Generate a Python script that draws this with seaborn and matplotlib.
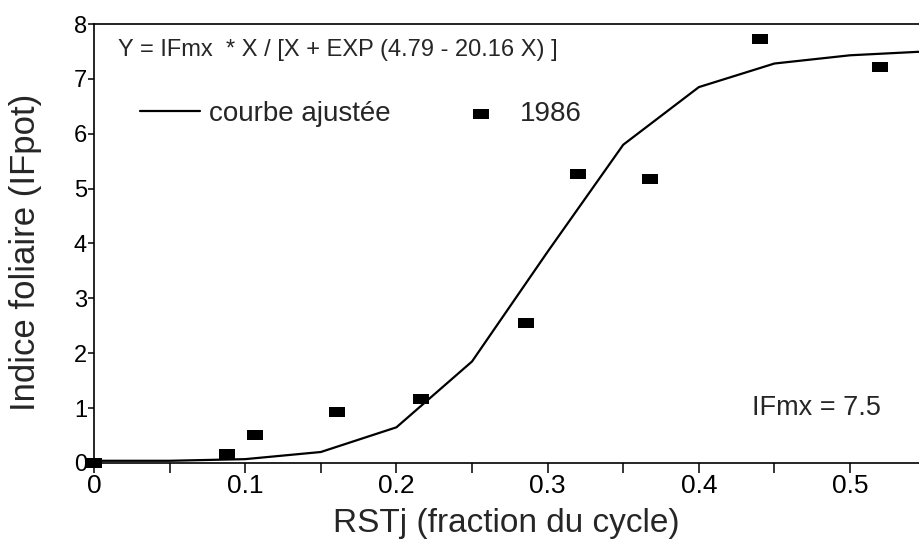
import numpy as np
import pandas as pd
import matplotlib
matplotlib.use("Agg")
import matplotlib.pyplot as plt
import seaborn as sns

# =========================
# DATA
# =========================
obs_x = [0.0, 0.088, 0.1065, 0.161, 0.216, 0.286, 0.320, 0.368, 0.4405, 0.520]
obs_y = [0.0, 0.17, 0.51, 0.93, 1.17, 2.56, 5.27, 5.18, 7.72, 7.21]

fit_x = [0.0, 0.05, 0.10, 0.15, 0.20, 0.25, 0.30, 0.35, 0.40, 0.45, 0.50, 0.55]
fit_y = [0.04, 0.04, 0.07, 0.20, 0.65, 1.85, 3.85, 5.80, 6.85, 7.28, 7.43, 7.50]

x_ticks = [0, 0.1, 0.2, 0.3, 0.4, 0.5]
x_tick_labels = ["0", "0.1", "0.2", "0.3", "0.4", "0.5"]
y_ticks = [0, 1, 2, 3, 4, 5, 6, 7, 8]

obs = pd.DataFrame({"x": obs_x, "y": obs_y})
fit = pd.DataFrame({"x": fit_x, "y": fit_y})

# =========================
# STYLE
# =========================
sns.set_style("ticks")
plt.rcParams["font.family"] = ["Liberation Sans", "DejaVu Sans"]

fig = plt.figure(figsize=(9.19, 5.42), dpi=100)
ax = fig.add_axes([0.1023, 0.1458, 0.8977, 0.8099])

# rectangular marker (wider than tall)
rect = [(-1, -0.65), (1, -0.65), (1, 0.65), (-1, 0.65), (-1, -0.65)]

sns.lineplot(data=fit, x="x", y="y", ax=ax, color="black", lw=1.6,
             label="courbe ajustée")
sns.scatterplot(data=obs, x="x", y="y", ax=ax, color="black", marker=rect,
                s=140, linewidth=0, label="1986", clip_on=False, zorder=5)

ax.set_xlim(0, 0.5456)
ax.set_ylim(0, 8)

ax.set_xticks(x_ticks)
ax.set_xticklabels(x_tick_labels, fontsize=19)
ax.set_xticks([0.05, 0.15, 0.25, 0.35, 0.45], minor=True)
ax.set_yticks(y_ticks)
ax.set_yticklabels([str(v) for v in y_ticks], fontsize=17)

ax.tick_params(axis="x", which="both", direction="out", length=7, width=1.1,
               pad=1, colors="black")
ax.tick_params(axis="y", direction="out", length=4, width=1.1, pad=1,
               colors="black")

for side in ["left", "bottom", "top"]:
    ax.spines[side].set_linewidth(1.2)
    ax.spines[side].set_color("black")
ax.spines["right"].set_visible(False)

ax.set_xlabel("RSTj (fraction du cycle)", fontsize=24, labelpad=7)
ax.set_ylabel("Indice foliaire (IFpot)", fontsize=25)
ax.yaxis.set_label_coords(-0.063, 0.48)

ax.text(0.029, 0.941, "Y = IFmx  * X / [X + EXP (4.79 - 20.16 X) ]",
        transform=ax.transAxes, fontsize=17, va="center", ha="left")
ax.text(0.798, 0.125, "IFmx = 7.5", transform=ax.transAxes,
        fontsize=19.5, va="center", ha="left")

ax.legend(loc="center left", bbox_to_anchor=(0.056, 0.795), ncol=2,
          frameon=False, fontsize=20, borderpad=0, borderaxespad=0,
          handlelength=2.16, handletextpad=0.3, columnspacing=2.2)

plt.savefig("out.png", dpi=100)
